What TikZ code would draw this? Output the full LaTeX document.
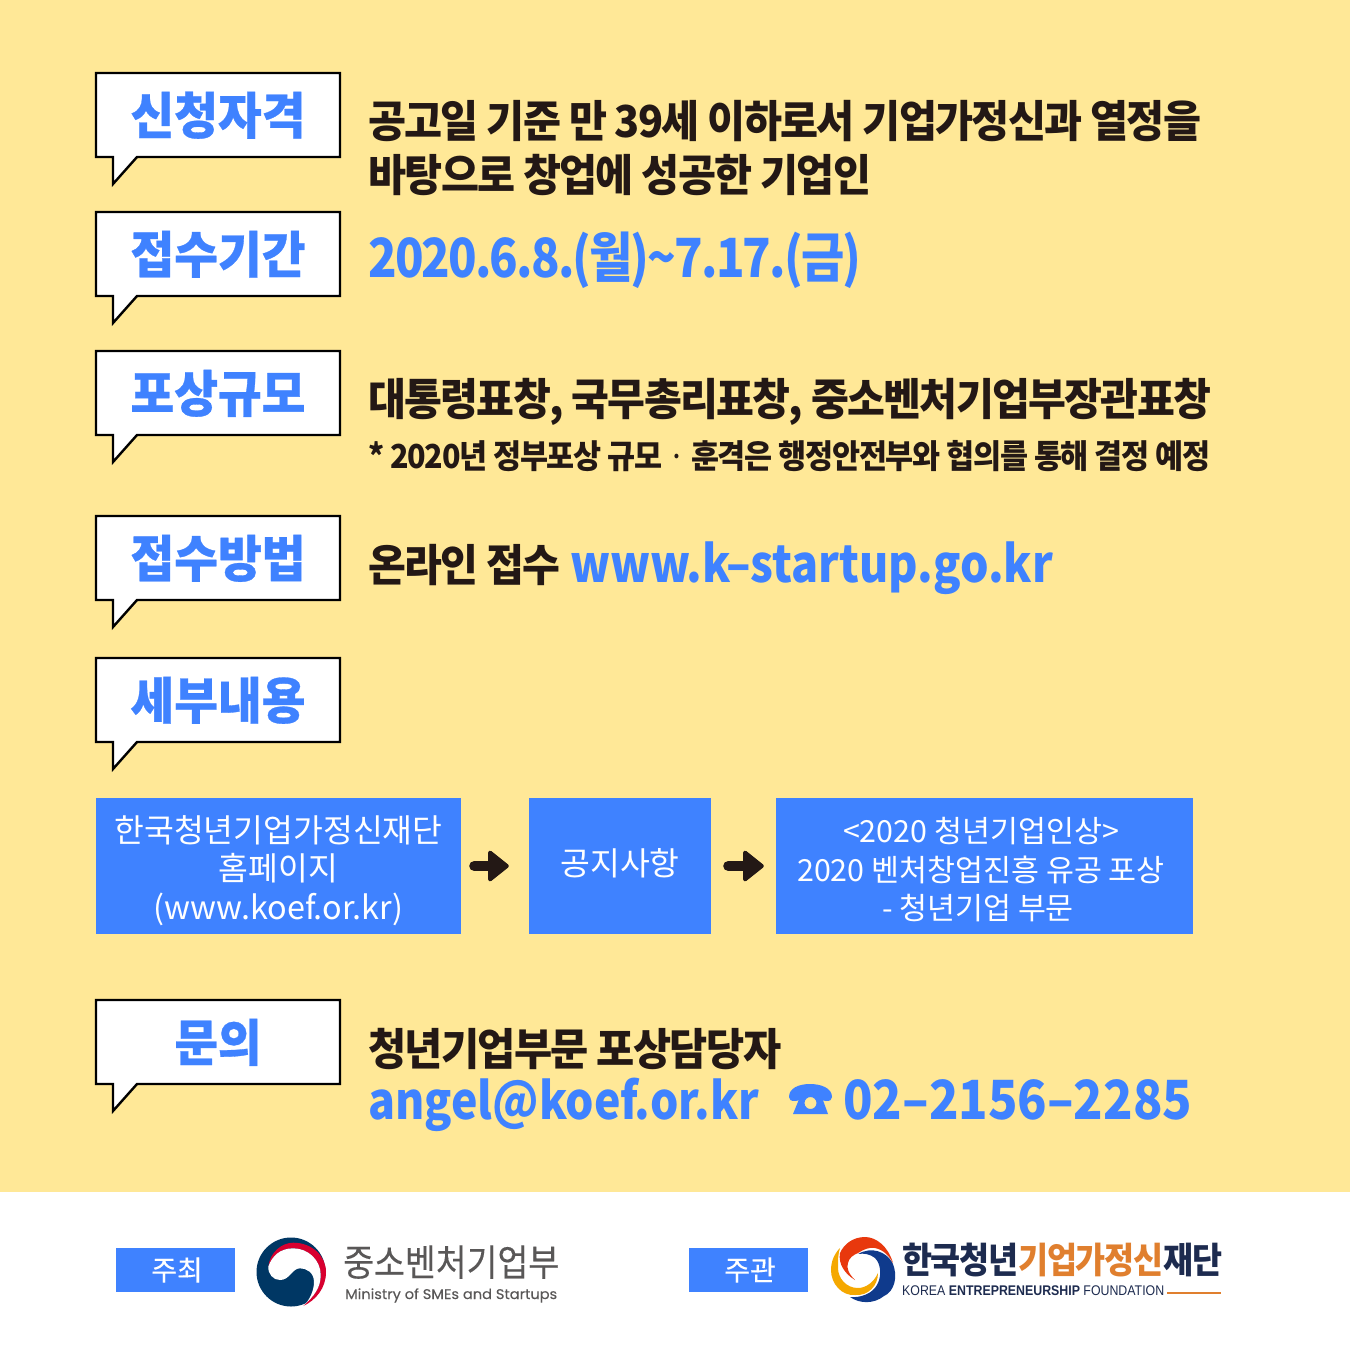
\documentclass[tikz,border=0pt]{standalone}
\usepackage{fontspec}
\usepackage{graphicx}
\setmainfont{Noto Sans CJK KR}
\newfontfamily\krtight[LetterSpace=-4]{Noto Sans CJK KR}
\newfontfamily\krheavy[BoldFeatures={FakeBold=0.6}]{Noto Sans CJK KR}
\newfontfamily\krmedium[FakeBold=0.25]{Noto Sans CJK KR}
\newfontfamily\enlogo{Liberation Sans}
\newfontfamily\enround[FakeBold=0.2]{Poppins}
\definecolor{creamback}{HTML}{FFE897}
\definecolor{bluetext}{HTML}{3F82FF}
\definecolor{darktext}{HTML}{231815}
\definecolor{logogray}{HTML}{595757}
\definecolor{logonavy}{HTML}{003764}
\definecolor{logored}{HTML}{D8002F}
\definecolor{logoorange}{HTML}{E07F2E}
\definecolor{logodark}{HTML}{1D2B4F}
\definecolor{ringred}{HTML}{E8380D}
\definecolor{ringyellow}{HTML}{F5A800}
\definecolor{ringblue}{HTML}{0F3A8C}
\newcommand{\fitw}[2]{\resizebox{#1pt}{\height}{#2}}
\newcommand{\bubble}[4]{%
  \draw [bubbleline] (96,#1) -- (340,#1) -- (340,#1+84) -- (137,#1+84) -- (113,#1+111) -- (113,#1+84) -- (96,#1+84) -- cycle;
  \node [bubbletext] (#2) at (218,#1+61) {\fitw{#4}{#3}};
}
\tikzset{
  bubbleline/.style={draw=black,fill=white,line width=2.4pt,line join=miter},
  bubbletext/.style={anchor=base,inner sep=0pt,text=bluetext,font=\krheavy\fontsize{50}{50}\selectfont\bfseries},
  headtext/.style={anchor=base west,inner sep=0pt,text=darktext},
  bluebox/.style={fill=bluetext,text=white,inner sep=0pt,align=center,font=\fontsize{32.4}{38.5}\selectfont},
  flowarrow/.style={draw=darktext,line width=10pt,line cap=round,-{Triangle[round,length=22pt,width=34pt,line width=4pt]}},
  tagbox/.style={fill=bluetext,text=white,inner sep=0pt,minimum width=119pt,minimum height=44pt,font=\krmedium\fontsize{28}{28}\selectfont},
}
\usetikzlibrary{arrows.meta}
\begin{document}
\begin{tikzpicture}[x=1pt,y=-1pt]
  \useasboundingbox (0,0) rectangle (1350,1350);
  \fill [color=creamback] (0,0) rectangle (1350,1192);
  \fill [color=white] (0,1192) rectangle (1350,1350);

  % speech bubbles
  \bubble{73}{qualify}{신청자격}{175}
  \bubble{212}{period}{접수기간}{175}
  \bubble{351}{prize}{포상규모}{175}
  \bubble{516}{method}{접수방법}{175}
  \bubble{658}{detail}{세부내용}{175}
  \bubble{1000}{contact}{문의}{87}

  % right hand texts
  \node [headtext] (qualifya) at (368,137) {\fitw{833}{\krtight\bfseries\fontsize{44}{44}\selectfont 공고일 기준 만 39세 이하로서 기업가정신과 열정을}};
  \node [headtext] (qualifyb) at (368,191) {\fitw{503}{\krtight\bfseries\fontsize{44}{44}\selectfont 바탕으로 창업에 성공한 기업인}};
  \node [headtext,text=bluetext] (date) at (368,277) {\fitw{493}{\krtight\bfseries\fontsize{54}{54}\selectfont 2020.6.8.(월)\textasciitilde 7.17.(금)}};
  \node [headtext] (prizea) at (368,415) {\fitw{843}{\krtight\bfseries\fontsize{44}{44}\selectfont 대통령표창, 국무총리표창, 중소벤처기업부장관표창}};
  \node [headtext] (prizeb) at (368,468) {\fitw{842}{\krtight\bfseries\fontsize{33}{33}\selectfont * 2020년 정부포상 규모 {\mdseries ·} 훈격은 행정안전부와 협의를 통해 결정 예정}};
  \node [headtext] (methoda) at (368,581) {\fitw{192}{\krtight\bfseries\fontsize{44}{44}\selectfont 온라인 접수}};
  \node [headtext,text=bluetext] (methodb) at (570,582) {\fitw{483}{\bfseries\fontsize{51}{51}\selectfont www.k–startup.go.kr}};
  \node [headtext] (contacta) at (368,1065) {\fitw{413}{\krtight\bfseries\fontsize{44}{44}\selectfont 청년기업부문 포상담당자}};
  \node [headtext,text=bluetext] (mail) at (368,1119) {\fitw{391}{\bfseries\fontsize{51}{51}\selectfont angel@koef.or.kr}};
  \node [headtext,text=bluetext] (phone) at (843,1119) {\fitw{349}{\bfseries\fontsize{54}{54}\selectfont 02–2156–2285}};

  % telephone
  \fill [color=bluetext] (789,1097) .. controls (789,1088) and (799,1084) .. (810,1084) .. controls (821,1084) and (832,1088) .. (832,1097) .. controls (832,1100) and (830,1101) .. (826,1101) -- (821,1100) -- (820,1094) -- (802,1094) -- (801,1100) -- (795,1101) .. controls (791,1101) and (789,1100) .. cycle;
  \fill [color=bluetext,even odd rule] (802,1092) -- (820,1092) -- (828,1114) -- (793,1114) -- cycle (810.5,1103) circle (6);

  % flow boxes
  \node [bluebox,minimum width=365pt,minimum height=136pt] (home) at (278.5,866) {\rule{0pt}{36pt}한국청년기업가정신재단\\홈페이지\\(www.koef.or.kr)};
  \node [bluebox,minimum width=182pt,minimum height=136pt] (notice) at (620,866) {\raisebox{8pt}{공지사항}};
  \node [bluebox,minimum width=417pt,minimum height=136pt,font=\fontsize{30.4}{38.5}\selectfont] (award) at (984.5,866) {\rule{0pt}{33pt}<2020 청년기업인상>\hspace{7pt}\mbox{}\\2020 벤처창업진흥 유공 포상\hspace{7pt}\mbox{}\\- 청년기업 부문\hspace{13pt}\mbox{}};
  \draw [flowarrow,shorten <=13pt,shorten >=20pt] (home) -- (notice);
  \draw [flowarrow,shorten <=17pt,shorten >=12pt] (notice) -- (award);

  % footer left
  \node [tagbox] (host) at (175.5,1270) {\hspace{3pt}주최};
  \fill [color=logonavy] (291,1272) circle (34.5);
  \fill [color=logored] (268.3,1266.7) .. controls (270,1252) and (282,1242.7) .. (293.3,1242.7) .. controls (312,1242.7) and (326,1256) .. (326,1272) .. controls (326,1288) and (316,1300) .. (303.3,1306) .. controls (314,1296) and (320.7,1288) .. (320.7,1275) .. controls (320.7,1260) and (308,1248.3) .. (293.3,1248.3) .. controls (280,1248.3) and (272,1256) .. cycle;
  \fill [color=white] (268.3,1266.7) .. controls (272,1256) and (280,1248.3) .. (293.3,1248.3) .. controls (308,1248.3) and (320.7,1260) .. (320.7,1275) .. controls (320.7,1288) and (314,1296) .. (303.3,1306) .. controls (310,1300) and (314,1290) .. (314,1282) .. controls (314,1272) and (306,1268.3) .. (300,1268.3) .. controls (292,1268.3) and (290,1280) .. (280,1280) .. controls (273,1280) and (268,1274) .. cycle;
  \node [anchor=base west,inner sep=0pt,text=logogray] (mssname) at (343,1276) {\fitw{216}{\krmedium\fontsize{37}{37}\selectfont 중소벤처기업부}};
  \node [anchor=base west,inner sep=0pt,text=logogray] (mssen) at (345,1299) {\fitw{212}{\enround\fontsize{14}{14}\selectfont Ministry of SMEs and Startups}};

  % footer right
  \node [tagbox] (organizer) at (748.5,1270) {\hspace{3pt}주관};
  \fill [color=ringblue] (858,1254) .. controls (872,1246) and (886,1252) .. (892,1262) .. controls (899,1276) and (894,1292) .. (884,1296) .. controls (874,1304) and (860,1304) .. (850,1297) .. controls (860,1298) and (872,1294) .. (877,1285) .. controls (882,1276) and (881,1264) .. (875,1258) .. controls (870,1254) and (864,1253) .. cycle;
  \fill [color=ringyellow] (840,1248) .. controls (834,1254) and (831,1262) .. (831,1270) .. controls (831,1284) and (842,1296) .. (855,1295) .. controls (868,1296) and (878,1286) .. (878,1273) .. controls (874,1282) and (866,1288) .. (858,1288) .. controls (846,1288) and (838,1278) .. (838,1268) .. controls (838,1260) and (838,1254) .. cycle;
  \fill [color=ringred] (893,1263) .. controls (888,1246) and (876,1237) .. (865,1237) .. controls (853,1237) and (844,1244) .. (840,1253) .. controls (838,1264) and (845,1274) .. (855,1280) .. controls (849,1274) and (846,1268) .. (848,1263) .. controls (849,1258) and (853,1255) .. (858,1253) .. controls (864,1249) and (870,1247) .. (875,1248) .. controls (884,1250) and (889,1256) .. cycle;
  \node [anchor=base west,inner sep=0pt,text=logodark] (kefname) at (902,1273) {\fitw{320}{\krtight\bfseries\fontsize{36}{36}\selectfont 한국청년{\color{logoorange}기업가정신}재단}};
  \node [anchor=base west,inner sep=0pt,text=logodark] (kefen) at (902,1295) {\fitw{262}{\enlogo\fontsize{14}{14}\selectfont KOREA {\bfseries ENTREPRENEURSHIP} FOUNDATION}};
  \draw [color=logoorange,line width=2.5pt] (1167,1293) -- (1221,1293);
\end{tikzpicture}
\end{document}
